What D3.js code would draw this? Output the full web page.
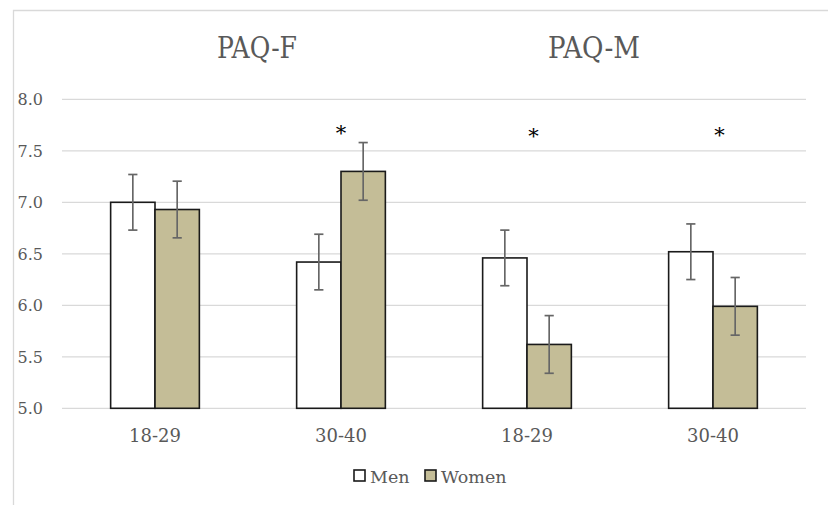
<!DOCTYPE html>
<html>
<head>
<meta charset="utf-8">
<script src="https://cdn.jsdelivr.net/npm/d3@7"></script>
<style>
  body { margin: 0; background: #fff; }
  svg { display: block; }
</style>
</head>
<body>
<svg id="chart"></svg>
<script>
// data
const categories = ["18-29", "30-40", "18-29", "30-40"];
const series = ["Men", "Women"];
const menValues = [7.0, 6.42, 6.46, 6.52];
const womenValues = [6.93, 7.30, 5.62, 5.99];
const menErrors = [0.27, 0.27, 0.27, 0.27];
const womenErrors = [0.275, 0.28, 0.28, 0.28];
const yTicks = [5.0, 5.5, 6.0, 6.5, 7.0, 7.5, 8.0];
const panelTitles = ["PAQ-F", "PAQ-M"];
const starCategories = [1, 2, 3];
const starValues = [7.73, 7.70, 7.71];

const width = 828;
const height = 505;
const colors = { Men: "#ffffff", Women: "#c4bd97" };

const svg = d3.select("#chart")
    .attr("width", width)
    .attr("height", height);

// chart frame (only left and top edges fall inside the picture)
svg.append("path")
    .attr("d", `M13.5,${height}V10.5H${width}`)
    .attr("fill", "none")
    .attr("stroke", "#d9d9d9")
    .attr("stroke-width", 1.3);

const plot = { left: 62, right: 806, top: 99.3, bottom: 408.3 };

const x0 = d3.scaleBand()
    .domain(d3.range(categories.length))
    .range([plot.left, plot.right])
    .paddingInner(0.523)
    .paddingOuter(0.2615);

const x1 = d3.scaleBand()
    .domain(series)
    .range([0, x0.bandwidth()]);

const y = d3.scaleLinear()
    .domain([5, 8])
    .range([plot.bottom, plot.top]);

// gridlines
svg.append("g")
    .selectAll("line")
    .data(yTicks)
    .enter()
    .append("line")
    .attr("x1", plot.left)
    .attr("x2", plot.right)
    .attr("y1", (d) => y(d))
    .attr("y2", (d) => y(d))
    .attr("stroke", "#d9d9d9")
    .attr("stroke-width", 1.3);

// y tick labels
svg.append("g")
    .selectAll("text")
    .data(yTicks)
    .enter()
    .append("text")
    .attr("x", 43)
    .attr("y", (d) => y(d))
    .attr("dy", "0.36em")
    .attr("text-anchor", "end")
    .attr("font-family", "DejaVu Serif")
    .attr("font-size", 16)
    .attr("fill", "#595959")
    .text((d) => d3.format(".1f")(d));

// bars
const rows = categories.map((c, i) => ({
    index: i,
    values: [
        { key: "Men", value: menValues[i], err: menErrors[i] },
        { key: "Women", value: womenValues[i], err: womenErrors[i] }
    ]
}));

const groups = svg.append("g")
    .selectAll("g")
    .data(rows)
    .enter()
    .append("g")
    .attr("transform", (d) => `translate(${x0(d.index)},0)`);

groups.selectAll("rect")
    .data((d) => d.values)
    .enter()
    .append("rect")
    .attr("x", (d) => x1(d.key))
    .attr("y", (d) => y(d.value))
    .attr("width", x1.bandwidth())
    .attr("height", (d) => y(5) - y(d.value))
    .attr("fill", (d) => colors[d.key])
    .attr("stroke", "#1a1a1a")
    .attr("stroke-width", 1.6);

// error bars
const capW = 4.6;
const errs = groups.selectAll("g.err")
    .data((d) => d.values)
    .enter()
    .append("g")
    .attr("class", "err")
    .attr("stroke", "#666666")
    .attr("stroke-width", 1.7);

errs.append("line")
    .attr("x1", (d) => x1(d.key) + x1.bandwidth() / 2)
    .attr("x2", (d) => x1(d.key) + x1.bandwidth() / 2)
    .attr("y1", (d) => y(d.value + d.err))
    .attr("y2", (d) => y(d.value - d.err));

errs.selectAll("line.cap")
    .data((d) => [d.value + d.err, d.value - d.err].map((v) => ({ key: d.key, v: v })))
    .enter()
    .append("line")
    .attr("class", "cap")
    .attr("x1", (d) => x1(d.key) + x1.bandwidth() / 2 - capW)
    .attr("x2", (d) => x1(d.key) + x1.bandwidth() / 2 + capW)
    .attr("y1", (d) => y(d.v))
    .attr("y2", (d) => y(d.v));

// category labels
svg.append("g")
    .selectAll("text")
    .data(categories)
    .enter()
    .append("text")
    .attr("x", (d, i) => x0(i) + x0.bandwidth() / 2)
    .attr("y", 442)
    .attr("text-anchor", "middle")
    .attr("font-family", "DejaVu Serif")
    .attr("font-size", 18)
    .attr("fill", "#595959")
    .text((d) => d);

// significance stars
svg.append("g")
    .selectAll("text")
    .data(starCategories)
    .enter()
    .append("text")
    .attr("x", (d, i) => x0(d) + x0.bandwidth() / 2 + (i === 0 ? 0 : 6.5))
    .attr("y", (d, i) => y(starValues[i]))
    .attr("dy", "0.6em")
    .attr("text-anchor", "middle")
    .attr("font-family", "DejaVu Serif")
    .attr("font-size", 21)
    .attr("fill", "#000")
    .text("*");

// panel titles
const titleX = [257, 594];
svg.append("g")
    .selectAll("text")
    .data(panelTitles)
    .enter()
    .append("text")
    .attr("x", (d, i) => titleX[i])
    .attr("y", 58)
    .attr("text-anchor", "middle")
    .attr("font-family", "DejaVu Serif")
    .attr("font-size", 30)
    .attr("textLength", (d, i) => (i === 0 ? 80 : 92))
    .attr("lengthAdjust", "spacingAndGlyphs")
    .attr("fill", "#595959")
    .text((d) => d);

// legend
const legend = svg.append("g")
    .selectAll("g")
    .data(series)
    .enter()
    .append("g")
    .attr("transform", (d, i) => `translate(${i === 0 ? 354 : 425},470)`);

legend.append("rect")
    .attr("width", 11)
    .attr("height", 11)
    .attr("fill", (d) => colors[d])
    .attr("stroke", "#1a1a1a")
    .attr("stroke-width", 1.6);

legend.append("text")
    .attr("x", 16)
    .attr("y", 12.5)
    .attr("font-family", "DejaVu Serif")
    .attr("font-size", 17.5)
    .attr("fill", "#595959")
    .text((d) => d);
</script>
</body>
</html>
